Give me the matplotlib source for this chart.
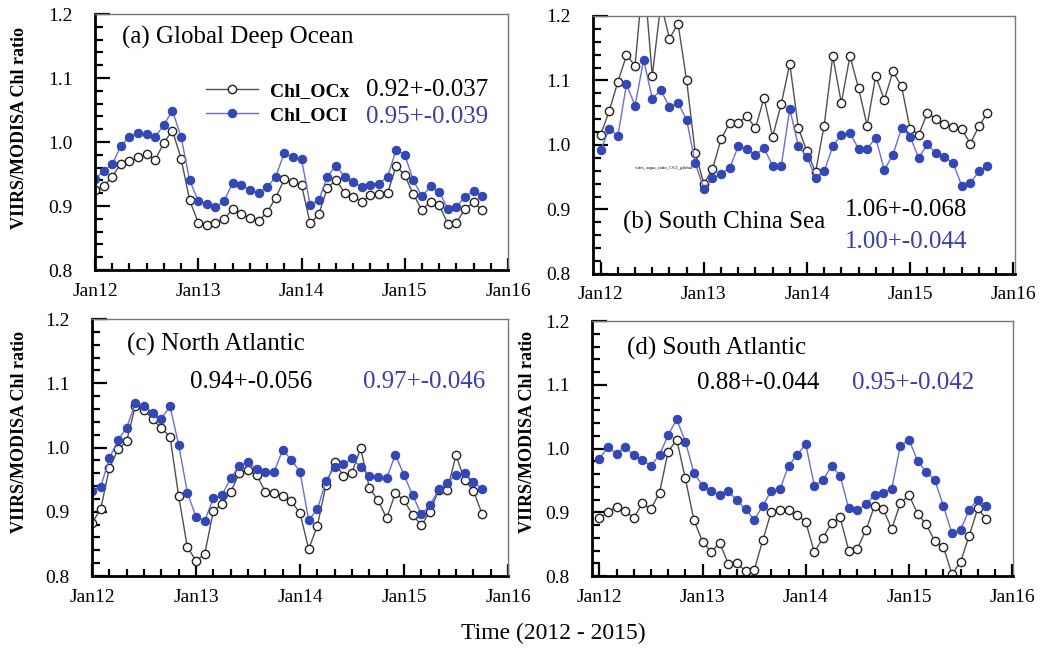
import numpy as np
import matplotlib
matplotlib.use("Agg")
import matplotlib.pyplot as plt
from matplotlib.ticker import MultipleLocator, FixedLocator

plt.rcParams['font.family'] = ['Liberation Serif', 'DejaVu Serif']

# monthly values, Jan 2012 .. Oct 2015 (46 months)
months = np.arange(46)
tick_pos = [0, 12, 24, 36, 48]
tick_labels = ["Jan12", "Jan13", "Jan14", "Jan15", "Jan16"]

# (a) Global Deep Ocean
gdo_ocx = [0.925, 0.931, 0.946, 0.966, 0.970, 0.976, 0.981, 0.972, 0.999, 1.018,
           0.974, 0.909, 0.874, 0.871, 0.874, 0.880, 0.895, 0.887, 0.881, 0.877,
           0.890, 0.913, 0.942, 0.938, 0.933, 0.873, 0.887, 0.928, 0.941, 0.921,
           0.914, 0.907, 0.917, 0.918, 0.920, 0.963, 0.948, 0.918, 0.894, 0.907,
           0.902, 0.872, 0.874, 0.895, 0.906, 0.894]
gdo_oci = [0.943, 0.955, 0.965, 0.994, 1.008, 1.014, 1.012, 1.008, 1.027, 1.049,
           1.008, 0.940, 0.908, 0.903, 0.898, 0.908, 0.936, 0.933, 0.925, 0.921,
           0.929, 0.946, 0.983, 0.976, 0.973, 0.902, 0.909, 0.946, 0.963, 0.946,
           0.938, 0.929, 0.933, 0.935, 0.946, 0.988, 0.980, 0.940, 0.915, 0.931,
           0.922, 0.896, 0.899, 0.914, 0.924, 0.916]

# (b) South China Sea
scs_ocx = [1.016, 1.053, 1.098, 1.139, 1.123, 1.270, 1.107, 1.220, 1.165, 1.188,
           1.100, 0.988, 0.940, 0.962, 1.009, 1.034, 1.034, 1.045, 1.026, 1.073,
           1.013, 1.063, 1.126, 1.026, 0.990, 0.958, 1.030, 1.138, 1.065, 1.138,
           1.088, 1.030, 1.107, 1.070, 1.114, 1.091, 1.025, 1.016, 1.049, 1.041,
           1.032, 1.028, 1.025, 1.002, 1.029, 1.050]
scs_oci = [0.992, 1.025, 1.014, 1.094, 1.061, 1.132, 1.072, 1.085, 1.059, 1.065,
           1.039, 0.972, 0.932, 0.949, 0.955, 0.964, 0.998, 0.993, 0.985, 0.995,
           0.968, 0.967, 1.056, 0.998, 0.982, 0.949, 0.959, 0.998, 1.016, 1.019,
           0.994, 0.994, 1.011, 0.961, 0.985, 1.026, 1.013, 0.980, 1.001, 0.987,
           0.981, 0.972, 0.937, 0.941, 0.959, 0.968]

# (c) North Atlantic
na_ocx = [0.883, 0.904, 0.968, 0.997, 1.010, 1.065, 1.059, 1.044, 1.030, 1.017,
          0.924, 0.845, 0.824, 0.834, 0.901, 0.912, 0.931, 0.960, 0.965, 0.957,
          0.931, 0.929, 0.925, 0.916, 0.898, 0.842, 0.878, 0.942, 0.978, 0.956,
          0.961, 0.999, 0.937, 0.918, 0.890, 0.929, 0.918, 0.895, 0.879, 0.900,
          0.934, 0.934, 0.988, 0.949, 0.933, 0.897]
na_oci = [0.933, 0.939, 0.983, 1.012, 1.031, 1.069, 1.065, 1.054, 1.045, 1.064,
          1.004, 0.930, 0.892, 0.886, 0.921, 0.926, 0.952, 0.972, 0.977, 0.967,
          0.962, 0.962, 0.996, 0.981, 0.962, 0.887, 0.904, 0.948, 0.970, 0.974,
          0.983, 0.970, 0.955, 0.954, 0.952, 0.989, 0.957, 0.926, 0.896, 0.910,
          0.935, 0.945, 0.958, 0.961, 0.946, 0.936]

# (d) South Atlantic
sa_ocx = [0.891, 0.900, 0.909, 0.902, 0.891, 0.914, 0.905, 0.931, 0.995, 1.014,
          0.953, 0.888, 0.854, 0.838, 0.852, 0.819, 0.820, 0.808, 0.809, 0.856,
          0.901, 0.904, 0.904, 0.896, 0.885, 0.837, 0.860, 0.883, 0.892, 0.840,
          0.843, 0.872, 0.910, 0.905, 0.874, 0.914, 0.927, 0.898, 0.881, 0.855,
          0.846, 0.803, 0.822, 0.863, 0.906, 0.890]
sa_oci = [0.984, 1.002, 0.992, 1.002, 0.990, 0.982, 0.973, 0.990, 1.021, 1.046,
          1.011, 0.962, 0.942, 0.934, 0.927, 0.933, 0.919, 0.905, 0.888, 0.910,
          0.934, 0.936, 0.973, 0.990, 1.007, 0.942, 0.950, 0.973, 0.957, 0.906,
          0.903, 0.913, 0.927, 0.931, 0.937, 1.004, 1.014, 0.981, 0.963, 0.951,
          0.910, 0.867, 0.872, 0.904, 0.920, 0.910]

titles = ["(a) Global Deep Ocean", "(b) South China Sea",
          "(c) North Atlantic", "(d) South Atlantic"]
stats_ocx = ["0.92+-0.037", "1.06+-0.068", "0.94+-0.056", "0.88+-0.044"]
stats_oci = ["0.95+-0.039", "1.00+-0.044", "0.97+-0.046", "0.95+-0.042"]

BLUE_M = '#3347b5'
BLUE_L = '#6a6fd0'
BLUE_T = '#3c3caa'

fig = plt.figure(figsize=(10.41, 6.5), dpi=100)
rects = [[0.0913, 0.5846, 0.3967, 0.3938],
         [0.5696, 0.5785, 0.4054, 0.3969],
         [0.0884, 0.1138, 0.3996, 0.3954],
         [0.5687, 0.1138, 0.4044, 0.3923]]
xlims = [(0, 48), (-0.9, 48.2), (0, 48), (-0.85, 48.1)]
data = [(gdo_ocx, gdo_oci), (scs_ocx, scs_oci), (na_ocx, na_oci), (sa_ocx, sa_oci)]

axes = []
for k in range(4):
    ax = fig.add_axes(rects[k])
    ocx, oci = data[k]
    l1, = ax.plot(months, ocx, '-o', color='#505050', lw=1.0, ms=6,
                  mfc='white', mec='#222222', mew=1.0, label='Chl_OCx')
    l2, = ax.plot(months, oci, '-o', color=BLUE_L, lw=1.0, ms=6,
                  mfc=BLUE_M, mec=BLUE_M, mew=0.8, label='Chl_OCI')
    ax.set_xlim(*xlims[k])
    ax.set_ylim(0.8, 1.2)
    ax.xaxis.set_major_locator(FixedLocator(tick_pos))
    ax.set_xticklabels(tick_labels)
    ax.xaxis.set_minor_locator(MultipleLocator(2))
    ax.yaxis.set_major_locator(MultipleLocator(0.1))
    ax.yaxis.set_minor_locator(MultipleLocator(0.02))
    ax.yaxis.set_major_formatter(matplotlib.ticker.FormatStrFormatter('%.1f'))
    ax.tick_params(which='both', direction='in', labelsize=14, width=1.6, color='black')
    ax.tick_params(axis='y', which='major', length=11, pad=16)
    ax.tick_params(axis='y', which='minor', length=6)
    ax.tick_params(axis='x', which='major', length=9, pad=9)
    ax.tick_params(axis='x', which='minor', length=5)
    ax.tick_params(top=False, right=False)
    for s in ['left', 'bottom']:
        ax.spines[s].set_linewidth(2.0)
        ax.spines[s].set_color('black')
    for s in ['top', 'right']:
        ax.spines[s].set_linewidth(1.0)
        ax.spines[s].set_color('#777777')
    axes.append(ax)
    if k == 0:
        ax.legend(handles=[l1, l2], loc='center left', bbox_to_anchor=(0.245, 0.652),
                  frameon=False, borderpad=0, handlelength=2.7, handletextpad=0.6,
                  labelspacing=0.35, prop={'weight': 'bold', 'size': 14})

ax_a, ax_b, ax_c, ax_d = axes
ax_a.text(0.065, 0.91, titles[0], transform=ax_a.transAxes, fontsize=18, va='center')
ax_a.text(0.655, 0.703, stats_ocx[0], transform=ax_a.transAxes, fontsize=18, va='center')
ax_a.text(0.655, 0.598, stats_oci[0], transform=ax_a.transAxes, fontsize=18, va='center', color=BLUE_T)

ax_b.text(0.071, 0.20, titles[1], transform=ax_b.transAxes, fontsize=18, va='center')
ax_b.text(0.597, 0.248, stats_ocx[1], transform=ax_b.transAxes, fontsize=18, va='center')
ax_b.text(0.597, 0.124, stats_oci[1], transform=ax_b.transAxes, fontsize=18, va='center', color=BLUE_T)
ax_b.text(0.10, 0.41, "viirs_aqua_ratio_OCI_global", transform=ax_b.transAxes, fontsize=3.5, va='center')

ax_c.text(0.084, 0.90, titles[2], transform=ax_c.transAxes, fontsize=18, va='center')
ax_c.text(0.236, 0.755, stats_ocx[2], transform=ax_c.transAxes, fontsize=18, va='center')
ax_c.text(0.651, 0.755, stats_oci[2], transform=ax_c.transAxes, fontsize=18, va='center', color=BLUE_T)

ax_d.text(0.083, 0.894, titles[3], transform=ax_d.transAxes, fontsize=18, va='center')
ax_d.text(0.249, 0.757, stats_ocx[3], transform=ax_d.transAxes, fontsize=18, va='center')
ax_d.text(0.618, 0.757, stats_oci[3], transform=ax_d.transAxes, fontsize=18, va='center', color=BLUE_T)

ylab = "VIIRS/MODISA Chl ratio"
fig.text(20 / 1041, 1 - 128 / 650, ylab, rotation=90, fontsize=13, fontweight='bold', ha='center', va='center')
fig.text(20 / 1041, 1 - 432 / 650, ylab, rotation=90, fontsize=13, fontweight='bold', ha='center', va='center')
fig.text(527 / 1041, 1 - 432 / 650, ylab, rotation=90, fontsize=13, fontweight='bold', ha='center', va='center')
fig.text(553 / 1041, 1 - 633 / 650, "Time (2012 - 2015)", fontsize=17, ha='center', va='center')

fig.savefig("out.png", dpi=100)
